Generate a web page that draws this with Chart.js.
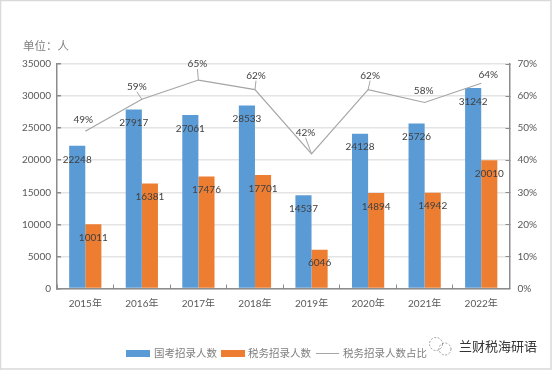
<!DOCTYPE html>
<html><head><meta charset="utf-8">
<style>html,body{margin:0;padding:0;background:#fff}#wrap{position:relative;width:554px;height:371px;overflow:hidden}canvas{position:absolute;left:0;top:0}</style>
<script src="https://cdn.jsdelivr.net/npm/chart.js@4/dist/chart.umd.min.js"></script>
</head><body><div id="wrap"><canvas id="c" width="554" height="371"></canvas></div>
<script>
const categories=['2015年','2016年','2017年','2018年','2019年','2020年','2021年','2022年'];
const nationalHires=[22248,27917,27061,28533,14537,24128,25726,31242];
const taxHires=[10011,16381,17476,17701,6046,14894,14942,20010];
const taxShare=[49,59,65,62,42,62,58,64];
const seriesNames=['国考招录人数','税务招录人数','税务招录人数占比'];
const unitLabel='单位：人';
const watermark='兰财税海研语';
const CJK='"Noto Sans CJK SC",sans-serif';
const FONT='Lato,"Noto Sans CJK SC",sans-serif';
const shareLabelOffsets=[[-2,-12],[-5,-12.5],[-1,-16],[1,-14],[-6,-21],[2,-14],[-1,-12],[7,-8]];
const shareLeaders=[false,true,true,true,true,true,false,false];
const frame={id:'frame',beforeDraw(ch){const g=ch.ctx;g.save();g.fillStyle='#fff';g.fillRect(0,0,554,371);g.strokeStyle='#d9d9d9';g.lineWidth=1.5;g.strokeRect(0.5,0.5,550.5,368.5);g.restore();}};
const overlay={id:'overlay',afterDatasetsDraw(ch){const g=ch.ctx;g.save();
 g.textAlign='center';g.textBaseline='middle';g.font='10px '+FONT;g.fillStyle='#404040';
 [0,1].forEach(i=>{ch.getDatasetMeta(i).data.forEach((b,j)=>{g.fillText(String(ch.data.datasets[i].data[j]),b.x,b.y+13.5);});});
 ch.getDatasetMeta(2).data.forEach((p,j)=>{const o=shareLabelOffsets[j];
  if(shareLeaders[j]){g.strokeStyle='#a6a6a6';g.lineWidth=1;g.beginPath();g.moveTo(p.x,p.y);g.lineTo(p.x+o[0],p.y+o[1]+5);g.stroke();}
  g.fillStyle='#404040';g.fillText(taxShare[j]+'%',p.x+o[0],p.y+o[1]);});
 g.restore();},
 afterDraw(ch){const g=ch.ctx;g.save();
 g.font='11.5px '+CJK;g.fillStyle='#7f7f7f';g.textAlign='left';g.textBaseline='middle';g.fillText(unitLabel,23,46);
 const y=353;
 g.font='10.5px '+CJK;
 g.fillStyle='#5b9bd5';g.fillRect(126,350,24,7);g.fillStyle='#7f7f7f';g.fillText(seriesNames[0],154,y);
 g.fillStyle='#ed7d31';g.fillRect(221,350,24,7);g.fillStyle='#7f7f7f';g.fillText(seriesNames[1],248,y);
 g.strokeStyle='#a6a6a6';g.lineWidth=1;g.beginPath();g.moveTo(316,353.5);g.lineTo(339,353.5);g.stroke();g.fillText(seriesNames[2],343,y);
 g.font='13px '+CJK;g.fillStyle='#333';g.fillText(watermark,459,346);
 g.strokeStyle='#888';g.lineWidth=0.8;g.setLineDash([2,1.5]);g.beginPath();g.arc(436,344,6.5,0,Math.PI*2);g.stroke();g.beginPath();g.arc(445,349,6,0,Math.PI*2);g.stroke();g.setLineDash([]);
 g.restore();}};
new Chart(document.getElementById('c'),{
 data:{labels:categories,datasets:[
  {type:'bar',label:seriesNames[0],data:nationalHires,backgroundColor:'#5b9bd5',yAxisID:'y',order:2,categoryPercentage:0.57,barPercentage:1},
  {type:'bar',label:seriesNames[1],data:taxHires,backgroundColor:'#ed7d31',yAxisID:'y',order:2,categoryPercentage:0.57,barPercentage:1},
  {type:'line',label:seriesNames[2],data:taxShare,borderColor:'#a5a5a5',borderWidth:1.2,pointRadius:0,tension:0,yAxisID:'y1',order:1}
 ]},
 options:{responsive:false,animation:false,
  layout:{padding:{left:0,right:0,top:64,bottom:64}},
  plugins:{legend:{display:false},tooltip:{enabled:false}},
  scales:{
   x:{offset:true,afterFit(a){a.height=18.5},grid:{offset:true,drawOnChartArea:false,drawTicks:true,tickLength:-4,color:'#8c8c8c'},border:{color:'#8c8c8c',width:1.5},ticks:{color:'#595959',font:{size:10,family:FONT},padding:13,maxRotation:0}},
   y:{position:'left',min:0,max:35000,afterFit(a){a.width=57},ticks:{stepSize:5000,callback:v=>String(v),color:'#595959',font:{size:10,family:FONT},padding:10},grid:{color:'#e4e4e4',lineWidth:1.5,tickColor:'#8c8c8c',tickLength:-4},border:{color:'#8c8c8c',width:1.5}},
   y1:{position:'right',min:0,max:70,afterFit(a){a.width=44.5},ticks:{stepSize:10,callback:v=>v+'%',color:'#595959',font:{size:10,family:FONT},padding:12},grid:{drawOnChartArea:false,color:'#8c8c8c',tickLength:-4},border:{color:'#8c8c8c',width:1.5}}
  }},
 plugins:[frame,overlay]
});
</script></body></html>
